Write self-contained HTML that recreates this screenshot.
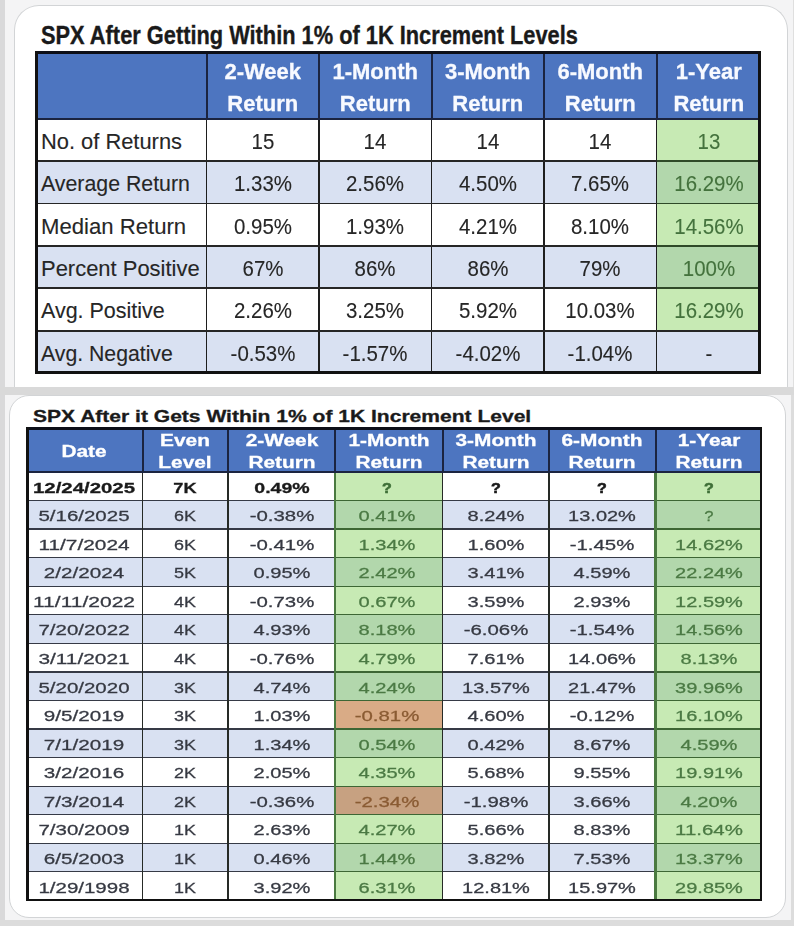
<!DOCTYPE html>
<html><head><meta charset="utf-8"><style>
html,body{margin:0;padding:0;background:#f3f3f3;}
body{width:794px;height:926px;position:relative;overflow:hidden;font-family:"Liberation Sans", sans-serif;}
#w{position:absolute;left:0;top:0;width:794px;height:926px;filter:blur(0.3px);}
#w>div{position:absolute;box-sizing:border-box;}
.t{white-space:nowrap;line-height:1;}
</style></head><body><div id="w">
<div style="left:0.00px;top:0.00px;width:794.00px;height:926.00px;background:#f4f4f5;"></div>
<div style="left:0.00px;top:0.00px;width:4.60px;height:926.00px;background:#d9d9da;"></div>
<div style="left:793.00px;top:0.00px;width:1.00px;height:387.00px;background:#dfdfdf;"></div>
<div style="left:791.00px;top:395.00px;width:3.00px;height:531.00px;background:#dcdcdc;"></div>
<div style="left:14.4px;top:5.2px;width:773.4px;height:386px;background:#fff;border:1.7px solid #d2d4d6;border-bottom:0;border-radius:25px 25px 0 0;"></div>
<div style="left:0.00px;top:387.00px;width:794.00px;height:8.00px;background:#d9d9d9;"></div>
<div style="left:0.00px;top:920.00px;width:794.00px;height:6.00px;background:#dcdcdc;"></div>
<div style="left:8.8px;top:394.6px;width:777.6px;height:523px;background:#fff;border:1.6px solid #d2d4d6;border-radius:20px;"></div>
<div class="t" style="left:41.00px;top:23.44px;font-size:25px;font-weight:bold;color:#1a1a1a;transform-origin:0 0;transform:scaleX(0.872);-webkit-text-stroke:0.35px currentColor;">SPX After Getting Within 1% of 1K Increment Levels</div>
<div style="left:34.50px;top:51.00px;width:726.70px;height:67.50px;background:#4d75c0;"></div>
<div style="left:34.50px;top:118.50px;width:726.70px;height:42.44px;background:#ffffff;"></div>
<div style="left:656.50px;top:118.50px;width:104.70px;height:42.44px;background:#c7eab4;"></div>
<div style="left:34.50px;top:160.94px;width:726.70px;height:42.44px;background:#d9e1f2;"></div>
<div style="left:656.50px;top:160.94px;width:104.70px;height:42.44px;background:#b2d7ac;"></div>
<div style="left:34.50px;top:203.38px;width:726.70px;height:42.44px;background:#ffffff;"></div>
<div style="left:656.50px;top:203.38px;width:104.70px;height:42.44px;background:#c7eab4;"></div>
<div style="left:34.50px;top:245.82px;width:726.70px;height:42.44px;background:#d9e1f2;"></div>
<div style="left:656.50px;top:245.82px;width:104.70px;height:42.44px;background:#b2d7ac;"></div>
<div style="left:34.50px;top:288.26px;width:726.70px;height:42.44px;background:#ffffff;"></div>
<div style="left:656.50px;top:288.26px;width:104.70px;height:42.44px;background:#c7eab4;"></div>
<div style="left:34.50px;top:330.70px;width:726.70px;height:43.30px;background:#d9e1f2;"></div>
<div style="left:205.50px;top:51.00px;width:2.00px;height:67.50px;background:#1b2440;"></div>
<div style="left:205.65px;top:118.50px;width:1.70px;height:255.50px;background:#1e1e1e;"></div>
<div style="left:318.00px;top:51.00px;width:2.00px;height:67.50px;background:#1b2440;"></div>
<div style="left:318.15px;top:118.50px;width:1.70px;height:255.50px;background:#1e1e1e;"></div>
<div style="left:430.50px;top:51.00px;width:2.00px;height:67.50px;background:#1b2440;"></div>
<div style="left:430.65px;top:118.50px;width:1.70px;height:255.50px;background:#1e1e1e;"></div>
<div style="left:543.00px;top:51.00px;width:2.00px;height:67.50px;background:#1b2440;"></div>
<div style="left:543.15px;top:118.50px;width:1.70px;height:255.50px;background:#1e1e1e;"></div>
<div style="left:655.50px;top:51.00px;width:2.00px;height:67.50px;background:#1b2440;"></div>
<div style="left:655.65px;top:118.50px;width:1.70px;height:255.50px;background:#1e1e1e;"></div>
<div style="left:34.50px;top:160.09px;width:622.00px;height:1.70px;background:#262626;"></div>
<div style="left:657.35px;top:160.09px;width:103.20px;height:1.70px;background:#2f4a28;"></div>
<div style="left:34.50px;top:202.53px;width:622.00px;height:1.70px;background:#262626;"></div>
<div style="left:657.35px;top:202.53px;width:103.20px;height:1.70px;background:#2f4a28;"></div>
<div style="left:34.50px;top:244.97px;width:622.00px;height:1.70px;background:#262626;"></div>
<div style="left:657.35px;top:244.97px;width:103.20px;height:1.70px;background:#2f4a28;"></div>
<div style="left:34.50px;top:287.41px;width:622.00px;height:1.70px;background:#262626;"></div>
<div style="left:657.35px;top:287.41px;width:103.20px;height:1.70px;background:#2f4a28;"></div>
<div style="left:34.50px;top:329.85px;width:622.00px;height:1.70px;background:#262626;"></div>
<div style="left:657.35px;top:329.85px;width:103.20px;height:1.70px;background:#262626;"></div>
<div style="left:34.50px;top:117.50px;width:726.70px;height:2.00px;background:#1b2440;"></div>
<div style="left:34.50px;top:51.00px;width:726.70px;height:3.00px;background:#0d0f18;"></div>
<div style="left:34.50px;top:371.00px;width:726.70px;height:3.00px;background:#111;"></div>
<div style="left:34.50px;top:51.00px;width:3.00px;height:323.00px;background:#111;"></div>
<div style="left:758.20px;top:51.00px;width:3.00px;height:323.00px;background:#111;"></div>
<div class="t" style="left:-37.25px;width:600px;top:61.08px;font-size:22px;font-weight:bold;color:#f8faff;text-align:center;transform:scaleX(1.000);-webkit-text-stroke:0.3px currentColor;">2-Week</div>
<div class="t" style="left:-37.25px;width:600px;top:92.88px;font-size:22px;font-weight:bold;color:#f8faff;text-align:center;transform:scaleX(1.000);-webkit-text-stroke:0.3px currentColor;">Return</div>
<div class="t" style="left:75.25px;width:600px;top:61.08px;font-size:22px;font-weight:bold;color:#f8faff;text-align:center;transform:scaleX(1.000);-webkit-text-stroke:0.3px currentColor;">1-Month</div>
<div class="t" style="left:75.25px;width:600px;top:92.88px;font-size:22px;font-weight:bold;color:#f8faff;text-align:center;transform:scaleX(1.000);-webkit-text-stroke:0.3px currentColor;">Return</div>
<div class="t" style="left:187.75px;width:600px;top:61.08px;font-size:22px;font-weight:bold;color:#f8faff;text-align:center;transform:scaleX(1.000);-webkit-text-stroke:0.3px currentColor;">3-Month</div>
<div class="t" style="left:187.75px;width:600px;top:92.88px;font-size:22px;font-weight:bold;color:#f8faff;text-align:center;transform:scaleX(1.000);-webkit-text-stroke:0.3px currentColor;">Return</div>
<div class="t" style="left:300.25px;width:600px;top:61.08px;font-size:22px;font-weight:bold;color:#f8faff;text-align:center;transform:scaleX(1.000);-webkit-text-stroke:0.3px currentColor;">6-Month</div>
<div class="t" style="left:300.25px;width:600px;top:92.88px;font-size:22px;font-weight:bold;color:#f8faff;text-align:center;transform:scaleX(1.000);-webkit-text-stroke:0.3px currentColor;">Return</div>
<div class="t" style="left:408.85px;width:600px;top:61.08px;font-size:22px;font-weight:bold;color:#f8faff;text-align:center;transform:scaleX(1.000);-webkit-text-stroke:0.3px currentColor;">1-Year</div>
<div class="t" style="left:408.85px;width:600px;top:92.88px;font-size:22px;font-weight:bold;color:#f8faff;text-align:center;transform:scaleX(1.000);-webkit-text-stroke:0.3px currentColor;">Return</div>
<div class="t" style="left:41.20px;top:130.68px;font-size:22px;font-weight:normal;color:#262626;transform-origin:0 0;transform:scaleX(0.994);-webkit-text-stroke:0.12px currentColor;">No. of Returns</div>
<div class="t" style="left:-37.25px;width:600px;top:130.68px;font-size:22px;font-weight:normal;color:#262626;text-align:center;transform:scaleX(0.930);-webkit-text-stroke:0.12px currentColor;">15</div>
<div class="t" style="left:75.25px;width:600px;top:130.68px;font-size:22px;font-weight:normal;color:#262626;text-align:center;transform:scaleX(0.930);-webkit-text-stroke:0.12px currentColor;">14</div>
<div class="t" style="left:187.75px;width:600px;top:130.68px;font-size:22px;font-weight:normal;color:#262626;text-align:center;transform:scaleX(0.930);-webkit-text-stroke:0.12px currentColor;">14</div>
<div class="t" style="left:300.25px;width:600px;top:130.68px;font-size:22px;font-weight:normal;color:#262626;text-align:center;transform:scaleX(0.930);-webkit-text-stroke:0.12px currentColor;">14</div>
<div class="t" style="left:408.85px;width:600px;top:130.68px;font-size:22px;font-weight:normal;color:#44723d;text-align:center;transform:scaleX(0.930);-webkit-text-stroke:0.12px currentColor;">13</div>
<div class="t" style="left:41.20px;top:173.12px;font-size:22px;font-weight:normal;color:#262626;transform-origin:0 0;transform:scaleX(0.969);-webkit-text-stroke:0.12px currentColor;">Average Return</div>
<div class="t" style="left:-37.25px;width:600px;top:173.12px;font-size:22px;font-weight:normal;color:#262626;text-align:center;transform:scaleX(0.930);-webkit-text-stroke:0.12px currentColor;">1.33%</div>
<div class="t" style="left:75.25px;width:600px;top:173.12px;font-size:22px;font-weight:normal;color:#262626;text-align:center;transform:scaleX(0.930);-webkit-text-stroke:0.12px currentColor;">2.56%</div>
<div class="t" style="left:187.75px;width:600px;top:173.12px;font-size:22px;font-weight:normal;color:#262626;text-align:center;transform:scaleX(0.930);-webkit-text-stroke:0.12px currentColor;">4.50%</div>
<div class="t" style="left:300.25px;width:600px;top:173.12px;font-size:22px;font-weight:normal;color:#262626;text-align:center;transform:scaleX(0.930);-webkit-text-stroke:0.12px currentColor;">7.65%</div>
<div class="t" style="left:408.85px;width:600px;top:173.12px;font-size:22px;font-weight:normal;color:#44723d;text-align:center;transform:scaleX(0.930);-webkit-text-stroke:0.12px currentColor;">16.29%</div>
<div class="t" style="left:41.20px;top:215.56px;font-size:22px;font-weight:normal;color:#262626;transform-origin:0 0;transform:scaleX(1.006);-webkit-text-stroke:0.12px currentColor;">Median Return</div>
<div class="t" style="left:-37.25px;width:600px;top:215.56px;font-size:22px;font-weight:normal;color:#262626;text-align:center;transform:scaleX(0.930);-webkit-text-stroke:0.12px currentColor;">0.95%</div>
<div class="t" style="left:75.25px;width:600px;top:215.56px;font-size:22px;font-weight:normal;color:#262626;text-align:center;transform:scaleX(0.930);-webkit-text-stroke:0.12px currentColor;">1.93%</div>
<div class="t" style="left:187.75px;width:600px;top:215.56px;font-size:22px;font-weight:normal;color:#262626;text-align:center;transform:scaleX(0.930);-webkit-text-stroke:0.12px currentColor;">4.21%</div>
<div class="t" style="left:300.25px;width:600px;top:215.56px;font-size:22px;font-weight:normal;color:#262626;text-align:center;transform:scaleX(0.930);-webkit-text-stroke:0.12px currentColor;">8.10%</div>
<div class="t" style="left:408.85px;width:600px;top:215.56px;font-size:22px;font-weight:normal;color:#44723d;text-align:center;transform:scaleX(0.930);-webkit-text-stroke:0.12px currentColor;">14.56%</div>
<div class="t" style="left:41.20px;top:258.00px;font-size:22px;font-weight:normal;color:#262626;transform-origin:0 0;transform:scaleX(0.998);-webkit-text-stroke:0.12px currentColor;">Percent Positive</div>
<div class="t" style="left:-37.25px;width:600px;top:258.00px;font-size:22px;font-weight:normal;color:#262626;text-align:center;transform:scaleX(0.930);-webkit-text-stroke:0.12px currentColor;">67%</div>
<div class="t" style="left:75.25px;width:600px;top:258.00px;font-size:22px;font-weight:normal;color:#262626;text-align:center;transform:scaleX(0.930);-webkit-text-stroke:0.12px currentColor;">86%</div>
<div class="t" style="left:187.75px;width:600px;top:258.00px;font-size:22px;font-weight:normal;color:#262626;text-align:center;transform:scaleX(0.930);-webkit-text-stroke:0.12px currentColor;">86%</div>
<div class="t" style="left:300.25px;width:600px;top:258.00px;font-size:22px;font-weight:normal;color:#262626;text-align:center;transform:scaleX(0.930);-webkit-text-stroke:0.12px currentColor;">79%</div>
<div class="t" style="left:408.85px;width:600px;top:258.00px;font-size:22px;font-weight:normal;color:#44723d;text-align:center;transform:scaleX(0.930);-webkit-text-stroke:0.12px currentColor;">100%</div>
<div class="t" style="left:41.20px;top:300.44px;font-size:22px;font-weight:normal;color:#262626;transform-origin:0 0;transform:scaleX(0.976);-webkit-text-stroke:0.12px currentColor;">Avg. Positive</div>
<div class="t" style="left:-37.25px;width:600px;top:300.44px;font-size:22px;font-weight:normal;color:#262626;text-align:center;transform:scaleX(0.930);-webkit-text-stroke:0.12px currentColor;">2.26%</div>
<div class="t" style="left:75.25px;width:600px;top:300.44px;font-size:22px;font-weight:normal;color:#262626;text-align:center;transform:scaleX(0.930);-webkit-text-stroke:0.12px currentColor;">3.25%</div>
<div class="t" style="left:187.75px;width:600px;top:300.44px;font-size:22px;font-weight:normal;color:#262626;text-align:center;transform:scaleX(0.930);-webkit-text-stroke:0.12px currentColor;">5.92%</div>
<div class="t" style="left:300.25px;width:600px;top:300.44px;font-size:22px;font-weight:normal;color:#262626;text-align:center;transform:scaleX(0.930);-webkit-text-stroke:0.12px currentColor;">10.03%</div>
<div class="t" style="left:408.85px;width:600px;top:300.44px;font-size:22px;font-weight:normal;color:#44723d;text-align:center;transform:scaleX(0.930);-webkit-text-stroke:0.12px currentColor;">16.29%</div>
<div class="t" style="left:41.20px;top:342.88px;font-size:22px;font-weight:normal;color:#262626;transform-origin:0 0;transform:scaleX(0.965);-webkit-text-stroke:0.12px currentColor;">Avg. Negative</div>
<div class="t" style="left:-37.25px;width:600px;top:342.88px;font-size:22px;font-weight:normal;color:#262626;text-align:center;transform:scaleX(0.930);-webkit-text-stroke:0.12px currentColor;">-0.53%</div>
<div class="t" style="left:75.25px;width:600px;top:342.88px;font-size:22px;font-weight:normal;color:#262626;text-align:center;transform:scaleX(0.930);-webkit-text-stroke:0.12px currentColor;">-1.57%</div>
<div class="t" style="left:187.75px;width:600px;top:342.88px;font-size:22px;font-weight:normal;color:#262626;text-align:center;transform:scaleX(0.930);-webkit-text-stroke:0.12px currentColor;">-4.02%</div>
<div class="t" style="left:300.25px;width:600px;top:342.88px;font-size:22px;font-weight:normal;color:#262626;text-align:center;transform:scaleX(0.930);-webkit-text-stroke:0.12px currentColor;">-1.04%</div>
<div class="t" style="left:408.85px;width:600px;top:342.88px;font-size:22px;font-weight:normal;color:#262626;text-align:center;transform:scaleX(0.930);-webkit-text-stroke:0.12px currentColor;">-</div>
<div class="t" style="left:33.30px;top:408.43px;font-size:16.5px;font-weight:bold;color:#1a1a1a;transform-origin:0 0;transform:scaleX(1.275);-webkit-text-stroke:0.3px currentColor;">SPX After it Gets Within 1% of 1K Increment Level</div>
<div style="left:25.80px;top:427.20px;width:736.50px;height:44.80px;background:#4d75c0;"></div>
<div style="left:25.80px;top:472.00px;width:736.50px;height:28.56px;background:#ffffff;"></div>
<div style="left:335.00px;top:472.00px;width:107.50px;height:28.56px;background:#c7eab4;"></div>
<div style="left:655.50px;top:472.00px;width:106.80px;height:28.56px;background:#c7eab4;"></div>
<div style="left:25.80px;top:500.56px;width:736.50px;height:28.56px;background:#d9e1f2;"></div>
<div style="left:335.00px;top:500.56px;width:107.50px;height:28.56px;background:#b2d7ac;"></div>
<div style="left:655.50px;top:500.56px;width:106.80px;height:28.56px;background:#b2d7ac;"></div>
<div style="left:25.80px;top:529.12px;width:736.50px;height:28.56px;background:#ffffff;"></div>
<div style="left:335.00px;top:529.12px;width:107.50px;height:28.56px;background:#c7eab4;"></div>
<div style="left:655.50px;top:529.12px;width:106.80px;height:28.56px;background:#c7eab4;"></div>
<div style="left:25.80px;top:557.68px;width:736.50px;height:28.56px;background:#d9e1f2;"></div>
<div style="left:335.00px;top:557.68px;width:107.50px;height:28.56px;background:#b2d7ac;"></div>
<div style="left:655.50px;top:557.68px;width:106.80px;height:28.56px;background:#b2d7ac;"></div>
<div style="left:25.80px;top:586.24px;width:736.50px;height:28.56px;background:#ffffff;"></div>
<div style="left:335.00px;top:586.24px;width:107.50px;height:28.56px;background:#c7eab4;"></div>
<div style="left:655.50px;top:586.24px;width:106.80px;height:28.56px;background:#c7eab4;"></div>
<div style="left:25.80px;top:614.80px;width:736.50px;height:28.56px;background:#d9e1f2;"></div>
<div style="left:335.00px;top:614.80px;width:107.50px;height:28.56px;background:#b2d7ac;"></div>
<div style="left:655.50px;top:614.80px;width:106.80px;height:28.56px;background:#b2d7ac;"></div>
<div style="left:25.80px;top:643.36px;width:736.50px;height:28.56px;background:#ffffff;"></div>
<div style="left:335.00px;top:643.36px;width:107.50px;height:28.56px;background:#c7eab4;"></div>
<div style="left:655.50px;top:643.36px;width:106.80px;height:28.56px;background:#c7eab4;"></div>
<div style="left:25.80px;top:671.92px;width:736.50px;height:28.56px;background:#d9e1f2;"></div>
<div style="left:335.00px;top:671.92px;width:107.50px;height:28.56px;background:#b2d7ac;"></div>
<div style="left:655.50px;top:671.92px;width:106.80px;height:28.56px;background:#b2d7ac;"></div>
<div style="left:25.80px;top:700.48px;width:736.50px;height:28.56px;background:#ffffff;"></div>
<div style="left:335.00px;top:700.48px;width:107.50px;height:28.56px;background:#d9ab86;"></div>
<div style="left:655.50px;top:700.48px;width:106.80px;height:28.56px;background:#c7eab4;"></div>
<div style="left:25.80px;top:729.04px;width:736.50px;height:28.56px;background:#d9e1f2;"></div>
<div style="left:335.00px;top:729.04px;width:107.50px;height:28.56px;background:#b2d7ac;"></div>
<div style="left:655.50px;top:729.04px;width:106.80px;height:28.56px;background:#b2d7ac;"></div>
<div style="left:25.80px;top:757.60px;width:736.50px;height:28.56px;background:#ffffff;"></div>
<div style="left:335.00px;top:757.60px;width:107.50px;height:28.56px;background:#c7eab4;"></div>
<div style="left:655.50px;top:757.60px;width:106.80px;height:28.56px;background:#c7eab4;"></div>
<div style="left:25.80px;top:786.16px;width:736.50px;height:28.56px;background:#d9e1f2;"></div>
<div style="left:335.00px;top:786.16px;width:107.50px;height:28.56px;background:#c7a181;"></div>
<div style="left:655.50px;top:786.16px;width:106.80px;height:28.56px;background:#b2d7ac;"></div>
<div style="left:25.80px;top:814.72px;width:736.50px;height:28.56px;background:#ffffff;"></div>
<div style="left:335.00px;top:814.72px;width:107.50px;height:28.56px;background:#c7eab4;"></div>
<div style="left:655.50px;top:814.72px;width:106.80px;height:28.56px;background:#c7eab4;"></div>
<div style="left:25.80px;top:843.28px;width:736.50px;height:28.56px;background:#d9e1f2;"></div>
<div style="left:335.00px;top:843.28px;width:107.50px;height:28.56px;background:#b2d7ac;"></div>
<div style="left:655.50px;top:843.28px;width:106.80px;height:28.56px;background:#b2d7ac;"></div>
<div style="left:25.80px;top:871.84px;width:736.50px;height:29.16px;background:#ffffff;"></div>
<div style="left:335.00px;top:871.84px;width:107.50px;height:29.16px;background:#c7eab4;"></div>
<div style="left:655.50px;top:871.84px;width:106.80px;height:29.16px;background:#c7eab4;"></div>
<div style="left:25.80px;top:499.91px;width:736.50px;height:1.30px;background:#363a46;"></div>
<div style="left:335.00px;top:499.91px;width:107.50px;height:1.30px;background:#3d6634;"></div>
<div style="left:655.50px;top:499.91px;width:106.80px;height:1.30px;background:#3d6634;"></div>
<div style="left:25.80px;top:528.47px;width:736.50px;height:1.30px;background:#363a46;"></div>
<div style="left:335.00px;top:528.47px;width:107.50px;height:1.30px;background:#3d6634;"></div>
<div style="left:655.50px;top:528.47px;width:106.80px;height:1.30px;background:#3d6634;"></div>
<div style="left:25.80px;top:557.03px;width:736.50px;height:1.30px;background:#363a46;"></div>
<div style="left:335.00px;top:557.03px;width:107.50px;height:1.30px;background:#3d6634;"></div>
<div style="left:655.50px;top:557.03px;width:106.80px;height:1.30px;background:#3d6634;"></div>
<div style="left:25.80px;top:585.59px;width:736.50px;height:1.30px;background:#363a46;"></div>
<div style="left:335.00px;top:585.59px;width:107.50px;height:1.30px;background:#3d6634;"></div>
<div style="left:655.50px;top:585.59px;width:106.80px;height:1.30px;background:#3d6634;"></div>
<div style="left:25.80px;top:614.15px;width:736.50px;height:1.30px;background:#363a46;"></div>
<div style="left:335.00px;top:614.15px;width:107.50px;height:1.30px;background:#3d6634;"></div>
<div style="left:655.50px;top:614.15px;width:106.80px;height:1.30px;background:#3d6634;"></div>
<div style="left:25.80px;top:642.71px;width:736.50px;height:1.30px;background:#363a46;"></div>
<div style="left:335.00px;top:642.71px;width:107.50px;height:1.30px;background:#3d6634;"></div>
<div style="left:655.50px;top:642.71px;width:106.80px;height:1.30px;background:#3d6634;"></div>
<div style="left:25.80px;top:671.27px;width:736.50px;height:1.30px;background:#363a46;"></div>
<div style="left:335.00px;top:671.27px;width:107.50px;height:1.30px;background:#3d6634;"></div>
<div style="left:655.50px;top:671.27px;width:106.80px;height:1.30px;background:#3d6634;"></div>
<div style="left:25.80px;top:699.83px;width:736.50px;height:1.30px;background:#363a46;"></div>
<div style="left:335.00px;top:699.83px;width:107.50px;height:1.30px;background:#3d6634;"></div>
<div style="left:655.50px;top:699.83px;width:106.80px;height:1.30px;background:#3d6634;"></div>
<div style="left:25.80px;top:728.39px;width:736.50px;height:1.30px;background:#363a46;"></div>
<div style="left:335.00px;top:728.39px;width:107.50px;height:1.30px;background:#3d6634;"></div>
<div style="left:655.50px;top:728.39px;width:106.80px;height:1.30px;background:#3d6634;"></div>
<div style="left:25.80px;top:756.95px;width:736.50px;height:1.30px;background:#363a46;"></div>
<div style="left:335.00px;top:756.95px;width:107.50px;height:1.30px;background:#3d6634;"></div>
<div style="left:655.50px;top:756.95px;width:106.80px;height:1.30px;background:#3d6634;"></div>
<div style="left:25.80px;top:785.51px;width:736.50px;height:1.30px;background:#363a46;"></div>
<div style="left:335.00px;top:785.51px;width:107.50px;height:1.30px;background:#3d6634;"></div>
<div style="left:655.50px;top:785.51px;width:106.80px;height:1.30px;background:#3d6634;"></div>
<div style="left:25.80px;top:814.07px;width:736.50px;height:1.30px;background:#363a46;"></div>
<div style="left:335.00px;top:814.07px;width:107.50px;height:1.30px;background:#3d6634;"></div>
<div style="left:655.50px;top:814.07px;width:106.80px;height:1.30px;background:#3d6634;"></div>
<div style="left:25.80px;top:842.63px;width:736.50px;height:1.30px;background:#363a46;"></div>
<div style="left:335.00px;top:842.63px;width:107.50px;height:1.30px;background:#3d6634;"></div>
<div style="left:655.50px;top:842.63px;width:106.80px;height:1.30px;background:#3d6634;"></div>
<div style="left:25.80px;top:871.19px;width:736.50px;height:1.30px;background:#363a46;"></div>
<div style="left:335.00px;top:871.19px;width:107.50px;height:1.30px;background:#3d6634;"></div>
<div style="left:655.50px;top:871.19px;width:106.80px;height:1.30px;background:#3d6634;"></div>
<div style="left:141.50px;top:427.20px;width:2.00px;height:44.80px;background:#1b2440;"></div>
<div style="left:141.70px;top:472.00px;width:1.60px;height:429.00px;background:#262a26;"></div>
<div style="left:227.00px;top:427.20px;width:2.00px;height:44.80px;background:#1b2440;"></div>
<div style="left:227.20px;top:472.00px;width:1.60px;height:429.00px;background:#262a26;"></div>
<div style="left:334.00px;top:427.20px;width:2.00px;height:44.80px;background:#1b2440;"></div>
<div style="left:333.90px;top:472.00px;width:2.20px;height:429.00px;background:#4a7a40;"></div>
<div style="left:441.50px;top:427.20px;width:2.00px;height:44.80px;background:#1b2440;"></div>
<div style="left:441.70px;top:472.00px;width:1.60px;height:429.00px;background:#262a26;"></div>
<div style="left:548.00px;top:427.20px;width:2.00px;height:44.80px;background:#1b2440;"></div>
<div style="left:548.20px;top:472.00px;width:1.60px;height:429.00px;background:#262a26;"></div>
<div style="left:654.50px;top:427.20px;width:2.00px;height:44.80px;background:#1b2440;"></div>
<div style="left:654.40px;top:472.00px;width:2.20px;height:429.00px;background:#4a7a40;"></div>
<div style="left:25.80px;top:471.00px;width:736.50px;height:2.00px;background:#1b2440;"></div>
<div style="left:25.80px;top:427.20px;width:736.50px;height:2.50px;background:#0d0f18;"></div>
<div style="left:25.80px;top:898.80px;width:736.50px;height:2.20px;background:#111;"></div>
<div style="left:25.80px;top:427.20px;width:3.00px;height:473.80px;background:#111;"></div>
<div style="left:759.80px;top:427.20px;width:2.50px;height:473.80px;background:#111;"></div>
<div class="t" style="left:-215.85px;width:600px;top:443.79px;font-size:15.6px;font-weight:bold;color:#ffffff;text-align:center;transform:scaleX(1.335);-webkit-text-stroke:0.3px currentColor;">Date</div>
<div class="t" style="left:-114.75px;width:600px;top:432.69px;font-size:15.6px;font-weight:bold;color:#ffffff;text-align:center;transform:scaleX(1.335);-webkit-text-stroke:0.3px currentColor;">Even</div>
<div class="t" style="left:-114.75px;width:600px;top:455.09px;font-size:15.6px;font-weight:bold;color:#ffffff;text-align:center;transform:scaleX(1.335);-webkit-text-stroke:0.3px currentColor;">Level</div>
<div class="t" style="left:-18.50px;width:600px;top:432.69px;font-size:15.6px;font-weight:bold;color:#ffffff;text-align:center;transform:scaleX(1.335);-webkit-text-stroke:0.3px currentColor;">2-Week</div>
<div class="t" style="left:-18.50px;width:600px;top:455.09px;font-size:15.6px;font-weight:bold;color:#ffffff;text-align:center;transform:scaleX(1.335);-webkit-text-stroke:0.3px currentColor;">Return</div>
<div class="t" style="left:88.75px;width:600px;top:432.69px;font-size:15.6px;font-weight:bold;color:#ffffff;text-align:center;transform:scaleX(1.335);-webkit-text-stroke:0.3px currentColor;">1-Month</div>
<div class="t" style="left:88.75px;width:600px;top:455.09px;font-size:15.6px;font-weight:bold;color:#ffffff;text-align:center;transform:scaleX(1.335);-webkit-text-stroke:0.3px currentColor;">Return</div>
<div class="t" style="left:195.75px;width:600px;top:432.69px;font-size:15.6px;font-weight:bold;color:#ffffff;text-align:center;transform:scaleX(1.335);-webkit-text-stroke:0.3px currentColor;">3-Month</div>
<div class="t" style="left:195.75px;width:600px;top:455.09px;font-size:15.6px;font-weight:bold;color:#ffffff;text-align:center;transform:scaleX(1.335);-webkit-text-stroke:0.3px currentColor;">Return</div>
<div class="t" style="left:302.25px;width:600px;top:432.69px;font-size:15.6px;font-weight:bold;color:#ffffff;text-align:center;transform:scaleX(1.335);-webkit-text-stroke:0.3px currentColor;">6-Month</div>
<div class="t" style="left:302.25px;width:600px;top:455.09px;font-size:15.6px;font-weight:bold;color:#ffffff;text-align:center;transform:scaleX(1.335);-webkit-text-stroke:0.3px currentColor;">Return</div>
<div class="t" style="left:408.90px;width:600px;top:432.69px;font-size:15.6px;font-weight:bold;color:#ffffff;text-align:center;transform:scaleX(1.335);-webkit-text-stroke:0.3px currentColor;">1-Year</div>
<div class="t" style="left:408.90px;width:600px;top:455.09px;font-size:15.6px;font-weight:bold;color:#ffffff;text-align:center;transform:scaleX(1.335);-webkit-text-stroke:0.3px currentColor;">Return</div>
<div class="t" style="left:-215.85px;width:600px;top:479.68px;font-size:15.5px;font-weight:bold;color:#1a1a1a;text-align:center;transform:scaleX(1.315);-webkit-text-stroke:0.3px currentColor;">12/24/2025</div>
<div class="t" style="left:-114.75px;width:600px;top:479.68px;font-size:15.5px;font-weight:bold;color:#1a1a1a;text-align:center;transform:scaleX(1.174);-webkit-text-stroke:0.3px currentColor;">7K</div>
<div class="t" style="left:-18.50px;width:600px;top:479.68px;font-size:15.5px;font-weight:bold;color:#1a1a1a;text-align:center;transform:scaleX(1.261);-webkit-text-stroke:0.3px currentColor;">0.49%</div>
<div class="t" style="left:86.95px;width:600px;top:479.68px;font-size:15.5px;font-weight:bold;color:#3f6f38;text-align:center;transform:scaleX(1.036);-webkit-text-stroke:0.6px currentColor;">?</div>
<div class="t" style="left:195.75px;width:600px;top:479.68px;font-size:15.5px;font-weight:bold;color:#1a1a1a;text-align:center;transform:scaleX(1.036);-webkit-text-stroke:0.6px currentColor;">?</div>
<div class="t" style="left:302.25px;width:600px;top:479.68px;font-size:15.5px;font-weight:bold;color:#1a1a1a;text-align:center;transform:scaleX(1.036);-webkit-text-stroke:0.6px currentColor;">?</div>
<div class="t" style="left:408.90px;width:600px;top:479.68px;font-size:15.5px;font-weight:bold;color:#3f6f38;text-align:center;transform:scaleX(1.036);-webkit-text-stroke:0.6px currentColor;">?</div>
<div class="t" style="left:-215.85px;width:600px;top:508.24px;font-size:15.5px;font-weight:normal;color:#363942;text-align:center;transform:scaleX(1.321);-webkit-text-stroke:0.28px currentColor;">5/16/2025</div>
<div class="t" style="left:-114.75px;width:600px;top:508.24px;font-size:15.5px;font-weight:normal;color:#363942;text-align:center;transform:scaleX(1.157);-webkit-text-stroke:0.28px currentColor;">6K</div>
<div class="t" style="left:-18.50px;width:600px;top:508.24px;font-size:15.5px;font-weight:normal;color:#363942;text-align:center;transform:scaleX(1.315);-webkit-text-stroke:0.28px currentColor;">-0.38%</div>
<div class="t" style="left:86.95px;width:600px;top:508.24px;font-size:15.5px;font-weight:normal;color:#4b7a44;text-align:center;transform:scaleX(1.295);-webkit-text-stroke:0.28px currentColor;">0.41%</div>
<div class="t" style="left:195.75px;width:600px;top:508.24px;font-size:15.5px;font-weight:normal;color:#363942;text-align:center;transform:scaleX(1.295);-webkit-text-stroke:0.28px currentColor;">8.24%</div>
<div class="t" style="left:302.25px;width:600px;top:508.24px;font-size:15.5px;font-weight:normal;color:#363942;text-align:center;transform:scaleX(1.289);-webkit-text-stroke:0.28px currentColor;">13.02%</div>
<div class="t" style="left:408.90px;width:600px;top:508.24px;font-size:15.5px;font-weight:normal;color:#4b7a44;text-align:center;transform:scaleX(1.073);-webkit-text-stroke:0.28px currentColor;">?</div>
<div class="t" style="left:-215.85px;width:600px;top:536.80px;font-size:15.5px;font-weight:normal;color:#363942;text-align:center;transform:scaleX(1.344);-webkit-text-stroke:0.28px currentColor;">11/7/2024</div>
<div class="t" style="left:-114.75px;width:600px;top:536.80px;font-size:15.5px;font-weight:normal;color:#363942;text-align:center;transform:scaleX(1.157);-webkit-text-stroke:0.28px currentColor;">6K</div>
<div class="t" style="left:-18.50px;width:600px;top:536.80px;font-size:15.5px;font-weight:normal;color:#363942;text-align:center;transform:scaleX(1.315);-webkit-text-stroke:0.28px currentColor;">-0.41%</div>
<div class="t" style="left:86.95px;width:600px;top:536.80px;font-size:15.5px;font-weight:normal;color:#4b7a44;text-align:center;transform:scaleX(1.295);-webkit-text-stroke:0.28px currentColor;">1.34%</div>
<div class="t" style="left:195.75px;width:600px;top:536.80px;font-size:15.5px;font-weight:normal;color:#363942;text-align:center;transform:scaleX(1.295);-webkit-text-stroke:0.28px currentColor;">1.60%</div>
<div class="t" style="left:302.25px;width:600px;top:536.80px;font-size:15.5px;font-weight:normal;color:#363942;text-align:center;transform:scaleX(1.315);-webkit-text-stroke:0.28px currentColor;">-1.45%</div>
<div class="t" style="left:408.90px;width:600px;top:536.80px;font-size:15.5px;font-weight:normal;color:#4b7a44;text-align:center;transform:scaleX(1.289);-webkit-text-stroke:0.28px currentColor;">14.62%</div>
<div class="t" style="left:-215.85px;width:600px;top:565.36px;font-size:15.5px;font-weight:normal;color:#363942;text-align:center;transform:scaleX(1.330);-webkit-text-stroke:0.28px currentColor;">2/2/2024</div>
<div class="t" style="left:-114.75px;width:600px;top:565.36px;font-size:15.5px;font-weight:normal;color:#363942;text-align:center;transform:scaleX(1.157);-webkit-text-stroke:0.28px currentColor;">5K</div>
<div class="t" style="left:-18.50px;width:600px;top:565.36px;font-size:15.5px;font-weight:normal;color:#363942;text-align:center;transform:scaleX(1.295);-webkit-text-stroke:0.28px currentColor;">0.95%</div>
<div class="t" style="left:86.95px;width:600px;top:565.36px;font-size:15.5px;font-weight:normal;color:#4b7a44;text-align:center;transform:scaleX(1.295);-webkit-text-stroke:0.28px currentColor;">2.42%</div>
<div class="t" style="left:195.75px;width:600px;top:565.36px;font-size:15.5px;font-weight:normal;color:#363942;text-align:center;transform:scaleX(1.295);-webkit-text-stroke:0.28px currentColor;">3.41%</div>
<div class="t" style="left:302.25px;width:600px;top:565.36px;font-size:15.5px;font-weight:normal;color:#363942;text-align:center;transform:scaleX(1.295);-webkit-text-stroke:0.28px currentColor;">4.59%</div>
<div class="t" style="left:408.90px;width:600px;top:565.36px;font-size:15.5px;font-weight:normal;color:#4b7a44;text-align:center;transform:scaleX(1.289);-webkit-text-stroke:0.28px currentColor;">22.24%</div>
<div class="t" style="left:-215.85px;width:600px;top:593.92px;font-size:15.5px;font-weight:normal;color:#363942;text-align:center;transform:scaleX(1.355);-webkit-text-stroke:0.28px currentColor;">11/11/2022</div>
<div class="t" style="left:-114.75px;width:600px;top:593.92px;font-size:15.5px;font-weight:normal;color:#363942;text-align:center;transform:scaleX(1.157);-webkit-text-stroke:0.28px currentColor;">4K</div>
<div class="t" style="left:-18.50px;width:600px;top:593.92px;font-size:15.5px;font-weight:normal;color:#363942;text-align:center;transform:scaleX(1.315);-webkit-text-stroke:0.28px currentColor;">-0.73%</div>
<div class="t" style="left:86.95px;width:600px;top:593.92px;font-size:15.5px;font-weight:normal;color:#4b7a44;text-align:center;transform:scaleX(1.295);-webkit-text-stroke:0.28px currentColor;">0.67%</div>
<div class="t" style="left:195.75px;width:600px;top:593.92px;font-size:15.5px;font-weight:normal;color:#363942;text-align:center;transform:scaleX(1.295);-webkit-text-stroke:0.28px currentColor;">3.59%</div>
<div class="t" style="left:302.25px;width:600px;top:593.92px;font-size:15.5px;font-weight:normal;color:#363942;text-align:center;transform:scaleX(1.295);-webkit-text-stroke:0.28px currentColor;">2.93%</div>
<div class="t" style="left:408.90px;width:600px;top:593.92px;font-size:15.5px;font-weight:normal;color:#4b7a44;text-align:center;transform:scaleX(1.289);-webkit-text-stroke:0.28px currentColor;">12.59%</div>
<div class="t" style="left:-215.85px;width:600px;top:622.48px;font-size:15.5px;font-weight:normal;color:#363942;text-align:center;transform:scaleX(1.321);-webkit-text-stroke:0.28px currentColor;">7/20/2022</div>
<div class="t" style="left:-114.75px;width:600px;top:622.48px;font-size:15.5px;font-weight:normal;color:#363942;text-align:center;transform:scaleX(1.157);-webkit-text-stroke:0.28px currentColor;">4K</div>
<div class="t" style="left:-18.50px;width:600px;top:622.48px;font-size:15.5px;font-weight:normal;color:#363942;text-align:center;transform:scaleX(1.295);-webkit-text-stroke:0.28px currentColor;">4.93%</div>
<div class="t" style="left:86.95px;width:600px;top:622.48px;font-size:15.5px;font-weight:normal;color:#4b7a44;text-align:center;transform:scaleX(1.295);-webkit-text-stroke:0.28px currentColor;">8.18%</div>
<div class="t" style="left:195.75px;width:600px;top:622.48px;font-size:15.5px;font-weight:normal;color:#363942;text-align:center;transform:scaleX(1.315);-webkit-text-stroke:0.28px currentColor;">-6.06%</div>
<div class="t" style="left:302.25px;width:600px;top:622.48px;font-size:15.5px;font-weight:normal;color:#363942;text-align:center;transform:scaleX(1.315);-webkit-text-stroke:0.28px currentColor;">-1.54%</div>
<div class="t" style="left:408.90px;width:600px;top:622.48px;font-size:15.5px;font-weight:normal;color:#4b7a44;text-align:center;transform:scaleX(1.289);-webkit-text-stroke:0.28px currentColor;">14.56%</div>
<div class="t" style="left:-215.85px;width:600px;top:651.04px;font-size:15.5px;font-weight:normal;color:#363942;text-align:center;transform:scaleX(1.344);-webkit-text-stroke:0.28px currentColor;">3/11/2021</div>
<div class="t" style="left:-114.75px;width:600px;top:651.04px;font-size:15.5px;font-weight:normal;color:#363942;text-align:center;transform:scaleX(1.157);-webkit-text-stroke:0.28px currentColor;">4K</div>
<div class="t" style="left:-18.50px;width:600px;top:651.04px;font-size:15.5px;font-weight:normal;color:#363942;text-align:center;transform:scaleX(1.315);-webkit-text-stroke:0.28px currentColor;">-0.76%</div>
<div class="t" style="left:86.95px;width:600px;top:651.04px;font-size:15.5px;font-weight:normal;color:#4b7a44;text-align:center;transform:scaleX(1.295);-webkit-text-stroke:0.28px currentColor;">4.79%</div>
<div class="t" style="left:195.75px;width:600px;top:651.04px;font-size:15.5px;font-weight:normal;color:#363942;text-align:center;transform:scaleX(1.295);-webkit-text-stroke:0.28px currentColor;">7.61%</div>
<div class="t" style="left:302.25px;width:600px;top:651.04px;font-size:15.5px;font-weight:normal;color:#363942;text-align:center;transform:scaleX(1.289);-webkit-text-stroke:0.28px currentColor;">14.06%</div>
<div class="t" style="left:408.90px;width:600px;top:651.04px;font-size:15.5px;font-weight:normal;color:#4b7a44;text-align:center;transform:scaleX(1.295);-webkit-text-stroke:0.28px currentColor;">8.13%</div>
<div class="t" style="left:-215.85px;width:600px;top:679.60px;font-size:15.5px;font-weight:normal;color:#363942;text-align:center;transform:scaleX(1.321);-webkit-text-stroke:0.28px currentColor;">5/20/2020</div>
<div class="t" style="left:-114.75px;width:600px;top:679.60px;font-size:15.5px;font-weight:normal;color:#363942;text-align:center;transform:scaleX(1.157);-webkit-text-stroke:0.28px currentColor;">3K</div>
<div class="t" style="left:-18.50px;width:600px;top:679.60px;font-size:15.5px;font-weight:normal;color:#363942;text-align:center;transform:scaleX(1.295);-webkit-text-stroke:0.28px currentColor;">4.74%</div>
<div class="t" style="left:86.95px;width:600px;top:679.60px;font-size:15.5px;font-weight:normal;color:#4b7a44;text-align:center;transform:scaleX(1.295);-webkit-text-stroke:0.28px currentColor;">4.24%</div>
<div class="t" style="left:195.75px;width:600px;top:679.60px;font-size:15.5px;font-weight:normal;color:#363942;text-align:center;transform:scaleX(1.289);-webkit-text-stroke:0.28px currentColor;">13.57%</div>
<div class="t" style="left:302.25px;width:600px;top:679.60px;font-size:15.5px;font-weight:normal;color:#363942;text-align:center;transform:scaleX(1.289);-webkit-text-stroke:0.28px currentColor;">21.47%</div>
<div class="t" style="left:408.90px;width:600px;top:679.60px;font-size:15.5px;font-weight:normal;color:#4b7a44;text-align:center;transform:scaleX(1.289);-webkit-text-stroke:0.28px currentColor;">39.96%</div>
<div class="t" style="left:-215.85px;width:600px;top:708.16px;font-size:15.5px;font-weight:normal;color:#363942;text-align:center;transform:scaleX(1.330);-webkit-text-stroke:0.28px currentColor;">9/5/2019</div>
<div class="t" style="left:-114.75px;width:600px;top:708.16px;font-size:15.5px;font-weight:normal;color:#363942;text-align:center;transform:scaleX(1.157);-webkit-text-stroke:0.28px currentColor;">3K</div>
<div class="t" style="left:-18.50px;width:600px;top:708.16px;font-size:15.5px;font-weight:normal;color:#363942;text-align:center;transform:scaleX(1.295);-webkit-text-stroke:0.28px currentColor;">1.03%</div>
<div class="t" style="left:86.95px;width:600px;top:708.16px;font-size:15.5px;font-weight:normal;color:#8a5b33;text-align:center;transform:scaleX(1.315);-webkit-text-stroke:0.28px currentColor;">-0.81%</div>
<div class="t" style="left:195.75px;width:600px;top:708.16px;font-size:15.5px;font-weight:normal;color:#363942;text-align:center;transform:scaleX(1.295);-webkit-text-stroke:0.28px currentColor;">4.60%</div>
<div class="t" style="left:302.25px;width:600px;top:708.16px;font-size:15.5px;font-weight:normal;color:#363942;text-align:center;transform:scaleX(1.315);-webkit-text-stroke:0.28px currentColor;">-0.12%</div>
<div class="t" style="left:408.90px;width:600px;top:708.16px;font-size:15.5px;font-weight:normal;color:#4b7a44;text-align:center;transform:scaleX(1.289);-webkit-text-stroke:0.28px currentColor;">16.10%</div>
<div class="t" style="left:-215.85px;width:600px;top:736.72px;font-size:15.5px;font-weight:normal;color:#363942;text-align:center;transform:scaleX(1.330);-webkit-text-stroke:0.28px currentColor;">7/1/2019</div>
<div class="t" style="left:-114.75px;width:600px;top:736.72px;font-size:15.5px;font-weight:normal;color:#363942;text-align:center;transform:scaleX(1.157);-webkit-text-stroke:0.28px currentColor;">3K</div>
<div class="t" style="left:-18.50px;width:600px;top:736.72px;font-size:15.5px;font-weight:normal;color:#363942;text-align:center;transform:scaleX(1.295);-webkit-text-stroke:0.28px currentColor;">1.34%</div>
<div class="t" style="left:86.95px;width:600px;top:736.72px;font-size:15.5px;font-weight:normal;color:#4b7a44;text-align:center;transform:scaleX(1.295);-webkit-text-stroke:0.28px currentColor;">0.54%</div>
<div class="t" style="left:195.75px;width:600px;top:736.72px;font-size:15.5px;font-weight:normal;color:#363942;text-align:center;transform:scaleX(1.295);-webkit-text-stroke:0.28px currentColor;">0.42%</div>
<div class="t" style="left:302.25px;width:600px;top:736.72px;font-size:15.5px;font-weight:normal;color:#363942;text-align:center;transform:scaleX(1.295);-webkit-text-stroke:0.28px currentColor;">8.67%</div>
<div class="t" style="left:408.90px;width:600px;top:736.72px;font-size:15.5px;font-weight:normal;color:#4b7a44;text-align:center;transform:scaleX(1.295);-webkit-text-stroke:0.28px currentColor;">4.59%</div>
<div class="t" style="left:-215.85px;width:600px;top:765.28px;font-size:15.5px;font-weight:normal;color:#363942;text-align:center;transform:scaleX(1.330);-webkit-text-stroke:0.28px currentColor;">3/2/2016</div>
<div class="t" style="left:-114.75px;width:600px;top:765.28px;font-size:15.5px;font-weight:normal;color:#363942;text-align:center;transform:scaleX(1.157);-webkit-text-stroke:0.28px currentColor;">2K</div>
<div class="t" style="left:-18.50px;width:600px;top:765.28px;font-size:15.5px;font-weight:normal;color:#363942;text-align:center;transform:scaleX(1.295);-webkit-text-stroke:0.28px currentColor;">2.05%</div>
<div class="t" style="left:86.95px;width:600px;top:765.28px;font-size:15.5px;font-weight:normal;color:#4b7a44;text-align:center;transform:scaleX(1.295);-webkit-text-stroke:0.28px currentColor;">4.35%</div>
<div class="t" style="left:195.75px;width:600px;top:765.28px;font-size:15.5px;font-weight:normal;color:#363942;text-align:center;transform:scaleX(1.295);-webkit-text-stroke:0.28px currentColor;">5.68%</div>
<div class="t" style="left:302.25px;width:600px;top:765.28px;font-size:15.5px;font-weight:normal;color:#363942;text-align:center;transform:scaleX(1.295);-webkit-text-stroke:0.28px currentColor;">9.55%</div>
<div class="t" style="left:408.90px;width:600px;top:765.28px;font-size:15.5px;font-weight:normal;color:#4b7a44;text-align:center;transform:scaleX(1.289);-webkit-text-stroke:0.28px currentColor;">19.91%</div>
<div class="t" style="left:-215.85px;width:600px;top:793.84px;font-size:15.5px;font-weight:normal;color:#363942;text-align:center;transform:scaleX(1.330);-webkit-text-stroke:0.28px currentColor;">7/3/2014</div>
<div class="t" style="left:-114.75px;width:600px;top:793.84px;font-size:15.5px;font-weight:normal;color:#363942;text-align:center;transform:scaleX(1.157);-webkit-text-stroke:0.28px currentColor;">2K</div>
<div class="t" style="left:-18.50px;width:600px;top:793.84px;font-size:15.5px;font-weight:normal;color:#363942;text-align:center;transform:scaleX(1.315);-webkit-text-stroke:0.28px currentColor;">-0.36%</div>
<div class="t" style="left:86.95px;width:600px;top:793.84px;font-size:15.5px;font-weight:normal;color:#8a5b33;text-align:center;transform:scaleX(1.315);-webkit-text-stroke:0.28px currentColor;">-2.34%</div>
<div class="t" style="left:195.75px;width:600px;top:793.84px;font-size:15.5px;font-weight:normal;color:#363942;text-align:center;transform:scaleX(1.315);-webkit-text-stroke:0.28px currentColor;">-1.98%</div>
<div class="t" style="left:302.25px;width:600px;top:793.84px;font-size:15.5px;font-weight:normal;color:#363942;text-align:center;transform:scaleX(1.295);-webkit-text-stroke:0.28px currentColor;">3.66%</div>
<div class="t" style="left:408.90px;width:600px;top:793.84px;font-size:15.5px;font-weight:normal;color:#4b7a44;text-align:center;transform:scaleX(1.295);-webkit-text-stroke:0.28px currentColor;">4.20%</div>
<div class="t" style="left:-215.85px;width:600px;top:822.40px;font-size:15.5px;font-weight:normal;color:#363942;text-align:center;transform:scaleX(1.321);-webkit-text-stroke:0.28px currentColor;">7/30/2009</div>
<div class="t" style="left:-114.75px;width:600px;top:822.40px;font-size:15.5px;font-weight:normal;color:#363942;text-align:center;transform:scaleX(1.157);-webkit-text-stroke:0.28px currentColor;">1K</div>
<div class="t" style="left:-18.50px;width:600px;top:822.40px;font-size:15.5px;font-weight:normal;color:#363942;text-align:center;transform:scaleX(1.295);-webkit-text-stroke:0.28px currentColor;">2.63%</div>
<div class="t" style="left:86.95px;width:600px;top:822.40px;font-size:15.5px;font-weight:normal;color:#4b7a44;text-align:center;transform:scaleX(1.295);-webkit-text-stroke:0.28px currentColor;">4.27%</div>
<div class="t" style="left:195.75px;width:600px;top:822.40px;font-size:15.5px;font-weight:normal;color:#363942;text-align:center;transform:scaleX(1.295);-webkit-text-stroke:0.28px currentColor;">5.66%</div>
<div class="t" style="left:302.25px;width:600px;top:822.40px;font-size:15.5px;font-weight:normal;color:#363942;text-align:center;transform:scaleX(1.295);-webkit-text-stroke:0.28px currentColor;">8.83%</div>
<div class="t" style="left:408.90px;width:600px;top:822.40px;font-size:15.5px;font-weight:normal;color:#4b7a44;text-align:center;transform:scaleX(1.318);-webkit-text-stroke:0.28px currentColor;">11.64%</div>
<div class="t" style="left:-215.85px;width:600px;top:850.96px;font-size:15.5px;font-weight:normal;color:#363942;text-align:center;transform:scaleX(1.330);-webkit-text-stroke:0.28px currentColor;">6/5/2003</div>
<div class="t" style="left:-114.75px;width:600px;top:850.96px;font-size:15.5px;font-weight:normal;color:#363942;text-align:center;transform:scaleX(1.157);-webkit-text-stroke:0.28px currentColor;">1K</div>
<div class="t" style="left:-18.50px;width:600px;top:850.96px;font-size:15.5px;font-weight:normal;color:#363942;text-align:center;transform:scaleX(1.295);-webkit-text-stroke:0.28px currentColor;">0.46%</div>
<div class="t" style="left:86.95px;width:600px;top:850.96px;font-size:15.5px;font-weight:normal;color:#4b7a44;text-align:center;transform:scaleX(1.295);-webkit-text-stroke:0.28px currentColor;">1.44%</div>
<div class="t" style="left:195.75px;width:600px;top:850.96px;font-size:15.5px;font-weight:normal;color:#363942;text-align:center;transform:scaleX(1.295);-webkit-text-stroke:0.28px currentColor;">3.82%</div>
<div class="t" style="left:302.25px;width:600px;top:850.96px;font-size:15.5px;font-weight:normal;color:#363942;text-align:center;transform:scaleX(1.295);-webkit-text-stroke:0.28px currentColor;">7.53%</div>
<div class="t" style="left:408.90px;width:600px;top:850.96px;font-size:15.5px;font-weight:normal;color:#4b7a44;text-align:center;transform:scaleX(1.289);-webkit-text-stroke:0.28px currentColor;">13.37%</div>
<div class="t" style="left:-215.85px;width:600px;top:879.52px;font-size:15.5px;font-weight:normal;color:#363942;text-align:center;transform:scaleX(1.321);-webkit-text-stroke:0.28px currentColor;">1/29/1998</div>
<div class="t" style="left:-114.75px;width:600px;top:879.52px;font-size:15.5px;font-weight:normal;color:#363942;text-align:center;transform:scaleX(1.157);-webkit-text-stroke:0.28px currentColor;">1K</div>
<div class="t" style="left:-18.50px;width:600px;top:879.52px;font-size:15.5px;font-weight:normal;color:#363942;text-align:center;transform:scaleX(1.295);-webkit-text-stroke:0.28px currentColor;">3.92%</div>
<div class="t" style="left:86.95px;width:600px;top:879.52px;font-size:15.5px;font-weight:normal;color:#4b7a44;text-align:center;transform:scaleX(1.295);-webkit-text-stroke:0.28px currentColor;">6.31%</div>
<div class="t" style="left:195.75px;width:600px;top:879.52px;font-size:15.5px;font-weight:normal;color:#363942;text-align:center;transform:scaleX(1.289);-webkit-text-stroke:0.28px currentColor;">12.81%</div>
<div class="t" style="left:302.25px;width:600px;top:879.52px;font-size:15.5px;font-weight:normal;color:#363942;text-align:center;transform:scaleX(1.289);-webkit-text-stroke:0.28px currentColor;">15.97%</div>
<div class="t" style="left:408.90px;width:600px;top:879.52px;font-size:15.5px;font-weight:normal;color:#4b7a44;text-align:center;transform:scaleX(1.289);-webkit-text-stroke:0.28px currentColor;">29.85%</div>
</div></body></html>
